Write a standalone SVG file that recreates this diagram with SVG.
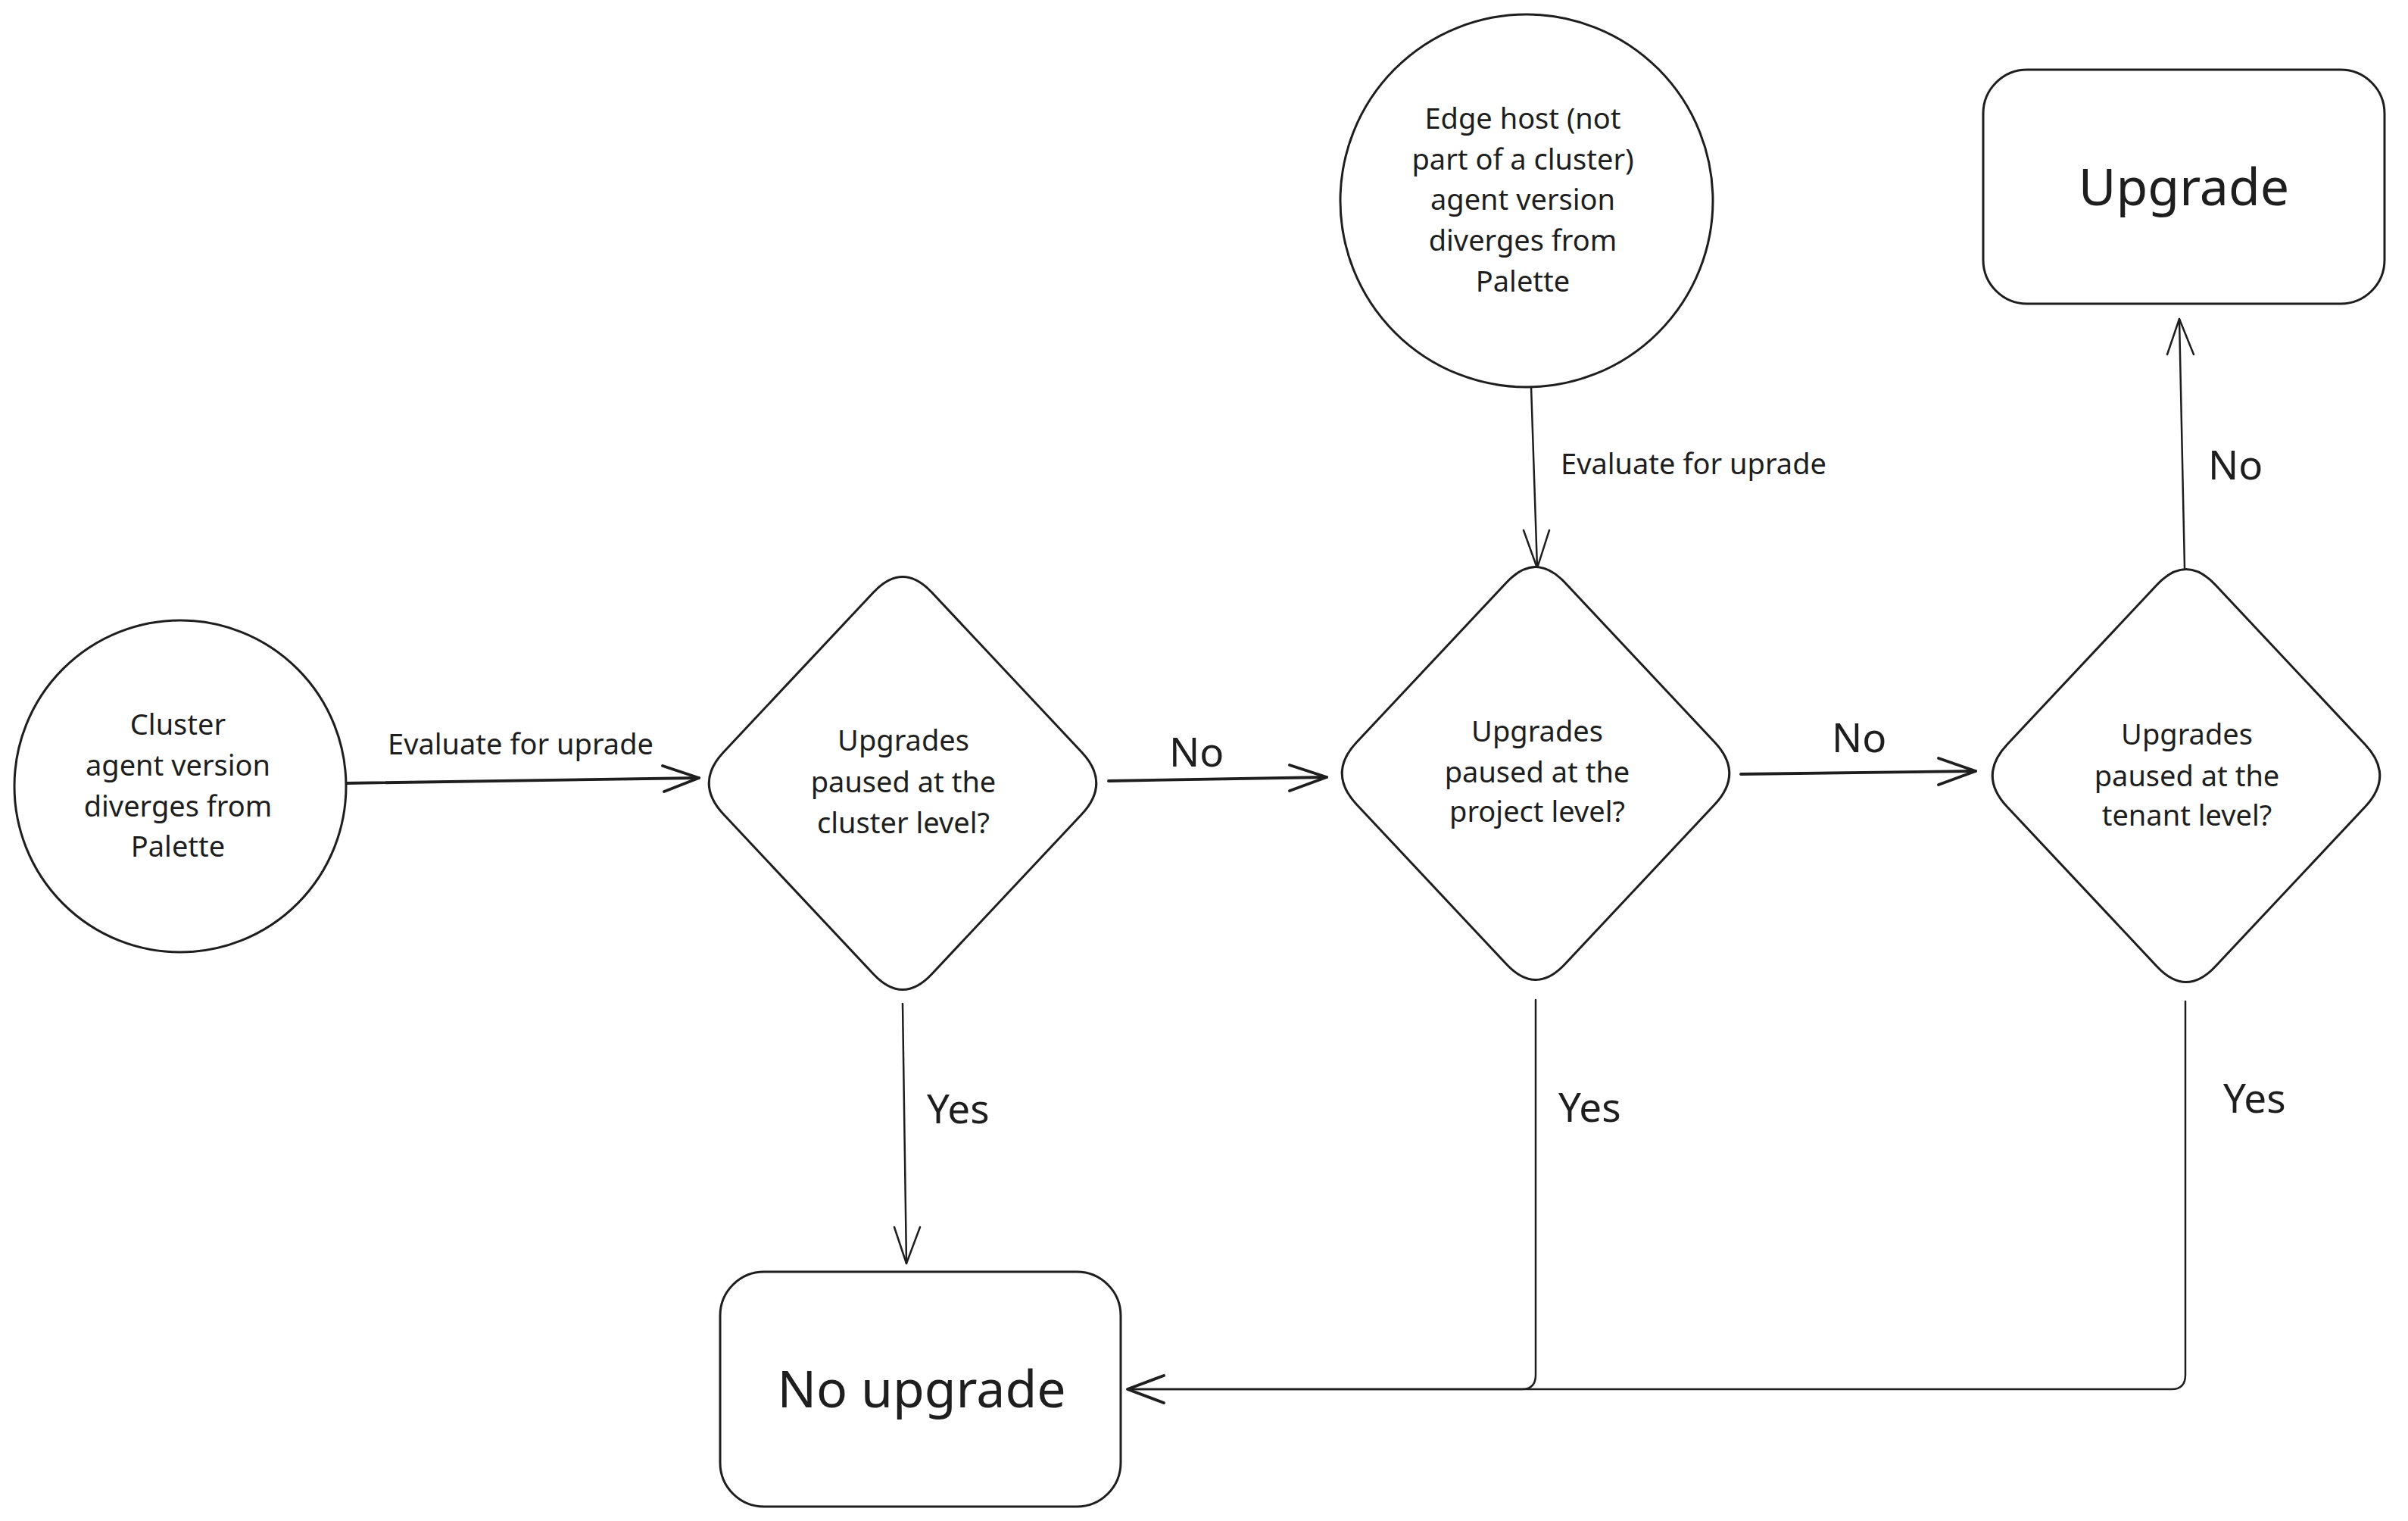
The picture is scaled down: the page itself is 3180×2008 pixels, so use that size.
<svg xmlns="http://www.w3.org/2000/svg" width="3180" height="2008" viewBox="0 0 3180 2008">
<style>
.node{fill:#ffffff;stroke:#1e1e1e;stroke-width:3;}
.t{font-family:"Noto Sans","Open Sans","DejaVu Sans",sans-serif;fill:#1e1e1e;font-size:38px;text-anchor:middle;}
.lbl{font-family:"Noto Sans","Open Sans","DejaVu Sans",sans-serif;fill:#1e1e1e;font-size:38px;}
.big{font-family:"Noto Sans","Open Sans","DejaVu Sans",sans-serif;fill:#1e1e1e;font-size:68px;text-anchor:middle;}
.yn{font-family:"Noto Sans","Open Sans","DejaVu Sans",sans-serif;fill:#1e1e1e;font-size:53px;}
.c{fill:none;stroke:#1e1e1e;stroke-linecap:round;stroke-linejoin:round;}
.thin{stroke-width:2.5;}
.thick{stroke-width:3.8;}
</style>
<defs>
<path id="dia" d="M 38.5,-252 L 236.5,-41 Q 275,0 236.5,41 L 38.5,252 Q 0,293 -38.5,252 L -236.5,41 Q -275,0 -236.5,-41 L -38.5,-252 Q 0,-293 38.5,-252 Z"/>
</defs>
<rect width="3180" height="2008" fill="#ffffff"/>

<g id="connectors">
  <g id="c-cluster-d1">
    <path class="c thick" d="M 457,1034 L 923,1027"/>
    <path class="c thick" d="M 875,1011 L 923,1027 L 877,1045"/>
    <text class="lbl" x="512" y="996">Evaluate for uprade</text>
  </g>
  <g id="c-d1-d2">
    <path class="c thick" d="M 1464,1031 L 1752,1026"/>
    <path class="c thick" d="M 1703,1010 L 1752,1026 L 1703,1044"/>
    <text class="yn" x="1544" y="1012">No</text>
  </g>
  <g id="c-d2-d3">
    <path class="c thick" d="M 2299,1022 L 2609,1018"/>
    <path class="c thick" d="M 2560,1001 L 2609,1018 L 2560,1036"/>
    <text class="yn" x="2419" y="993">No</text>
  </g>
  <g id="c-edge-d2">
    <path class="c thin" d="M 2022,510 L 2030,750"/>
    <path class="c thin" d="M 2012,700 L 2030,750 L 2046,700"/>
    <text class="lbl" x="2061" y="626">Evaluate for uprade</text>
  </g>
  <g id="c-d3-upgrade">
    <path class="c thin" d="M 2885,750 L 2878,421"/>
    <path class="c thin" d="M 2862,468 L 2878,421 L 2897,468"/>
    <text class="yn" x="2916" y="633">No</text>
  </g>
  <g id="c-d1-noup">
    <path class="c thin" d="M 1192,1325 L 1197,1668"/>
    <path class="c thin" d="M 1181,1620 L 1197,1668 L 1215,1620"/>
    <text class="yn" x="1224" y="1483">Yes</text>
  </g>
  <g id="c-d2-noup">
    <path class="c thin" d="M 2028,1320 L 2028,1815 Q 2028,1834 2010,1834 L 1489,1834"/>
    <text class="yn" x="2058" y="1481">Yes</text>
  </g>
  <g id="c-d3-noup">
    <path class="c thin" d="M 2886,1322 L 2886,1815 Q 2886,1834 2868,1834 L 1489,1834"/>
    <path class="c thick" d="M 1537,1816 L 1489,1834 L 1537,1852"/>
    <text class="yn" x="2936" y="1469">Yes</text>
  </g>
</g>

<g id="node-cluster">
  <circle class="node" cx="238" cy="1038" r="219"/>
  <text class="t" x="235" y="970">Cluster</text>
  <text class="t" x="235" y="1024">agent version</text>
  <text class="t" x="235" y="1078">diverges from</text>
  <text class="t" x="235" y="1131">Palette</text>
</g>

<g id="node-edge">
  <circle class="node" cx="2016" cy="265" r="246"/>
  <text class="t" x="2011" y="170">Edge host (not</text>
  <text class="t" x="2011" y="224">part of a cluster)</text>
  <text class="t" x="2011" y="277">agent version</text>
  <text class="t" x="2011" y="331">diverges from</text>
  <text class="t" x="2011" y="385">Palette</text>
</g>

<g id="node-d1">
  <use href="#dia" class="node" transform="translate(1192,1034)"/>
  <text class="t" x="1193" y="991">Upgrades</text>
  <text class="t" x="1193" y="1046">paused at the</text>
  <text class="t" x="1193" y="1100">cluster level?</text>
</g>

<g id="node-d2">
  <use href="#dia" class="node" transform="translate(2028,1021)"/>
  <text class="t" x="2030" y="979">Upgrades</text>
  <text class="t" x="2030" y="1033">paused at the</text>
  <text class="t" x="2030" y="1085">project level?</text>
</g>

<g id="node-d3">
  <use href="#dia" class="node" transform="translate(2887,1024)"/>
  <text class="t" x="2888" y="983">Upgrades</text>
  <text class="t" x="2888" y="1038">paused at the</text>
  <text class="t" x="2888" y="1090">tenant level?</text>
</g>

<g id="node-upgrade">
  <rect class="node" x="2619" y="92" width="530" height="309" rx="58" ry="58"/>
  <text class="big" x="2884" y="271">Upgrade</text>
</g>

<g id="node-noupgrade">
  <rect class="node" x="951" y="1679" width="529" height="310" rx="58" ry="58"/>
  <text class="big" x="1217" y="1858">No upgrade</text>
</g>
</svg>
